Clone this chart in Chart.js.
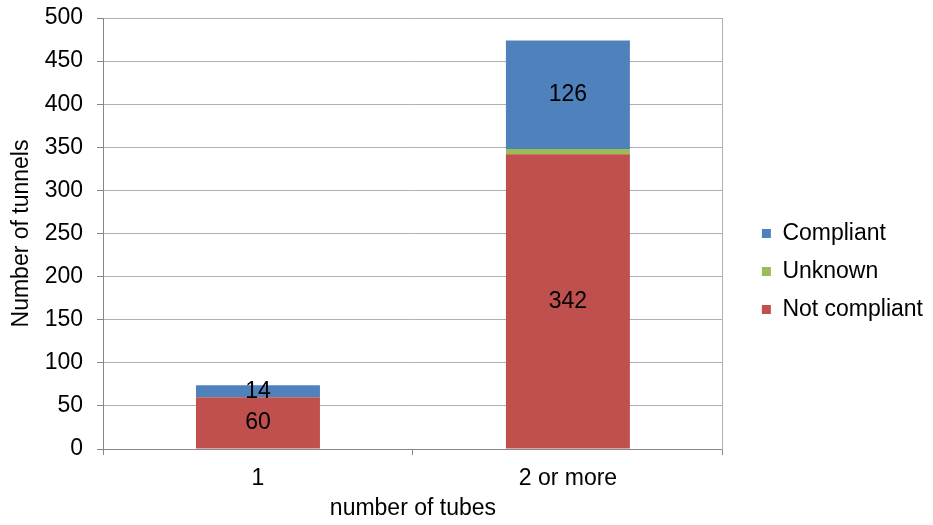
<!DOCTYPE html>
<html>
<head>
<meta charset="utf-8">
<script src="https://cdn.jsdelivr.net/npm/chart.js@4.4.1/dist/chart.umd.min.js"></script>
<style>
  html, body { margin: 0; padding: 0; background: #ffffff; }
  #wrap { width: 933px; height: 525px; position: relative; }
</style>
</head>
<body>
<div id="wrap"><canvas id="c"></canvas></div>
<script>
// ---- data ----
const categories = ['1', '2 or more'];
const notCompliant = [60, 342];
const unknown = [0, 6];
const compliant = [14, 126];
const seriesNames = ['Not compliant', 'Unknown', 'Compliant'];
const yMin = 0, yMax = 500, yStep = 50;
const xTitle = 'number of tubes';
const yTitle = 'Number of tunnels';

const FONT = "'Liberation Sans', Arial, sans-serif";
const SIZE = 23;
const AXIS = '#868686';
const GRID = '#b0b0b0';

Chart.defaults.font.family = FONT;
Chart.defaults.font.size = SIZE;
Chart.defaults.color = '#000000';

const valueLabels = {
  id: 'valueLabels',
  afterDatasetsDraw(chart) {
    const ctx = chart.ctx;
    ctx.save();
    ctx.font = SIZE + 'px ' + FONT;
    ctx.fillStyle = '#000000';
    ctx.textAlign = 'center';
    ctx.textBaseline = 'middle';
    chart.data.datasets.forEach((ds, i) => {
      if (!ds.showValue) return;
      const meta = chart.getDatasetMeta(i);
      meta.data.forEach((bar, j) => {
        const v = ds.data[j];
        if (!v) return;
        ctx.fillText(String(v), bar.x, (bar.y + bar.base) / 2);
      });
    });
    ctx.restore();
  }
};

new Chart(document.getElementById('c'), {
  type: 'bar',
  data: {
    labels: categories,
    datasets: [
      { label: seriesNames[0], data: notCompliant, backgroundColor: '#C0504D', showValue: true },
      { label: seriesNames[1], data: unknown, backgroundColor: '#9BBB59', showValue: false },
      { label: seriesNames[2], data: compliant, backgroundColor: '#4F81BD', showValue: true }
    ]
  },
  options: {
    responsive: true,
    maintainAspectRatio: false,
    animation: false,
    datasets: { bar: { categoryPercentage: 1.0, barPercentage: 0.4, borderWidth: 0 } },
    layout: { padding: { top: 18, right: 0, bottom: 0, left: 0 } },
    plugins: {
      tooltip: { enabled: false },
      legend: {
        position: 'right',
        reverse: true,
        maxWidth: 400,
        labels: { boxWidth: 9, boxHeight: 9, padding: 15, font: { size: SIZE }, color: '#000000' }
      }
    },
    scales: {
      x: {
        stacked: true,
        offset: true,
        grid: { display: true, drawOnChartArea: false, drawTicks: true, tickLength: 6, tickColor: AXIS, offset: true },
        border: { display: true, color: AXIS },
        ticks: { padding: 10, font: { size: SIZE }, color: '#000000' },
        title: { display: true, text: xTitle, font: { size: SIZE }, color: '#000000', padding: { top: 3, bottom: 3 } },
        afterFit(s) { s.height = 76; }
      },
      y: {
        stacked: true,
        min: yMin,
        max: yMax,
        ticks: { stepSize: yStep, padding: 14, font: { size: SIZE }, color: '#000000' },
        grid: { color: GRID, tickColor: AXIS, tickLength: 6, drawTicks: true },
        border: { display: true, color: AXIS },
        title: { display: true, text: yTitle, font: { size: SIZE }, color: '#000000', padding: { top: 8, bottom: 0 } },
        afterFit(s) { s.width = 103; s.paddingTop = 0; s.paddingBottom = 0; }
      },
      yEdge: {
        type: 'linear',
        position: 'right',
        display: true,
        grid: { display: false, drawTicks: false },
        ticks: { display: false },
        border: { display: true, color: GRID },
        afterFit(s) { s.width = 24; s.paddingTop = 0; s.paddingBottom = 0; }
      }
    }
  },
  plugins: [valueLabels]
});
</script>
</body>
</html>
